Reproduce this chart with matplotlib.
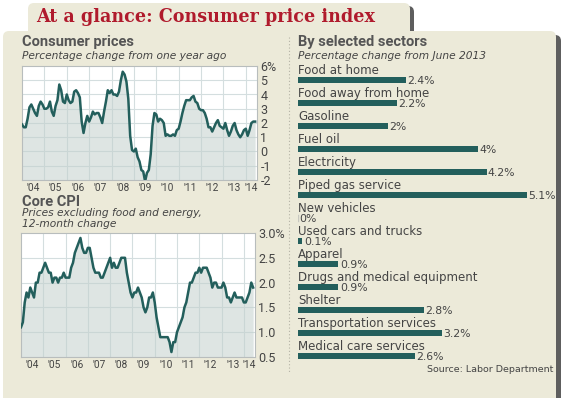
import numpy as np
import matplotlib
matplotlib.use("Agg")
import matplotlib.pyplot as plt
from matplotlib.patches import FancyBboxPatch

# ---- data ----
# monthly CPI, % change from a year ago, Jan 2004 .. Jun 2014
cpi = [1.9, 1.7, 1.7, 2.3, 3.1, 3.3, 3.0, 2.7, 2.5, 3.2, 3.5, 3.3,
       3.0, 3.0, 3.1, 3.5, 2.8, 2.5, 3.2, 3.6, 4.7, 4.3, 3.5, 3.4,
       4.0, 3.6, 3.4, 3.5, 4.2, 4.3, 4.1, 3.8, 2.1, 1.3, 2.0, 2.5,
       2.1, 2.4, 2.8, 2.6, 2.7, 2.7, 2.4, 2.0, 2.8, 3.5, 4.3, 4.1,
       4.3, 4.0, 4.0, 3.9, 4.2, 5.0, 5.6, 5.4, 4.9, 3.7, 1.1, 0.1,
       0.0, 0.2, -0.4, -0.7, -1.3, -1.4, -2.1, -1.5, -1.3, -0.2, 1.8, 2.7,
       2.6, 2.1, 2.3, 2.2, 2.0, 1.1, 1.2, 1.1, 1.1, 1.2, 1.1, 1.5,
       1.6, 2.1, 2.7, 3.2, 3.6, 3.6, 3.6, 3.8, 3.9, 3.5, 3.4, 3.0,
       2.9, 2.9, 2.7, 2.3, 1.7, 1.7, 1.4, 1.7, 2.0, 2.2, 1.8, 1.7,
       1.6, 2.0, 1.5, 1.1, 1.4, 1.8, 2.0, 1.5, 1.2, 1.0, 1.2, 1.5,
       1.6, 1.1, 1.5, 2.0, 2.1, 2.1]
# core CPI (ex food & energy), 12-month change
core = [1.1, 1.2, 1.6, 1.8, 1.7, 1.9, 1.8, 1.7, 2.0, 2.0, 2.2, 2.2,
        2.3, 2.4, 2.3, 2.2, 2.2, 2.0, 2.1, 2.1, 2.0, 2.1, 2.1, 2.2,
        2.1, 2.1, 2.1, 2.3, 2.4, 2.6, 2.7, 2.8, 2.9, 2.7, 2.6, 2.6,
        2.7, 2.7, 2.5, 2.3, 2.2, 2.2, 2.2, 2.1, 2.1, 2.2, 2.3, 2.4,
        2.5, 2.3, 2.4, 2.3, 2.3, 2.4, 2.5, 2.5, 2.5, 2.2, 2.0, 1.8,
        1.7, 1.8, 1.8, 1.9, 1.8, 1.7, 1.5, 1.4, 1.5, 1.7, 1.7, 1.8,
        1.6, 1.3, 1.1, 0.9, 0.9, 0.9, 0.9, 0.9, 0.8, 0.6, 0.8, 0.8,
        1.0, 1.1, 1.2, 1.3, 1.5, 1.6, 1.8, 2.0, 2.0, 2.1, 2.2, 2.2,
        2.3, 2.2, 2.3, 2.3, 2.3, 2.2, 2.1, 1.9, 2.0, 2.0, 1.9, 1.9,
        1.9, 2.0, 1.9, 1.7, 1.7, 1.6, 1.7, 1.8, 1.7, 1.7, 1.7, 1.7,
        1.6, 1.6, 1.7, 1.8, 2.0, 1.9]
year_labels = ["'04", "'05", "'06", "'07", "'08", "'09", "'10", "'11", "'12", "'13", "'14"]

sectors = ["Food at home", "Food away from home", "Gasoline", "Fuel oil",
           "Electricity", "Piped gas service", "New vehicles",
           "Used cars and trucks", "Apparel", "Drugs and medical equipment",
           "Shelter", "Transportation services", "Medical care services"]
changes = [2.4, 2.2, 2.0, 4.0, 4.2, 5.1, 0.0, 0.1, 0.9, 0.9, 2.8, 3.2, 2.6]
change_labels = ["2.4%", "2.2%", "2%", "4%", "4.2%", "5.1%", "0%", "0.1%",
                 "0.9%", "0.9%", "2.8%", "3.2%", "2.6%"]

W, H = 569, 398
BG = "#ecead9"
TEAL = "#235f5c"
TXT = "#444444"
NARROW = "Roboto"

fig = plt.figure(figsize=(W / 100, H / 100), dpi=100)
fig.patch.set_facecolor("white")


def px_axes(x0, y0, x1, y1):
    # axes from pixel box (top-left origin)
    return fig.add_axes([x0 / W, 1 - y1 / H, (x1 - x0) / W, (y1 - y0) / H])


# background panels
bg = px_axes(0, 0, W, H)
bg.set_xlim(0, W)
bg.set_ylim(H, 0)
bg.axis("off")
# shadows
bg.add_patch(FancyBboxPatch((32, 6), 382, 40, boxstyle="round,pad=0,rounding_size=6",
                            fc="#5e5e5e", ec="none"))
bg.add_patch(FancyBboxPatch((7, 35), 554, 380, boxstyle="round,pad=0,rounding_size=6",
                            fc="#5e5e5e", ec="none"))
# tab + main panel
bg.add_patch(FancyBboxPatch((28, 3), 382, 40, boxstyle="round,pad=0,rounding_size=6",
                            fc=BG, ec="none"))
bg.add_patch(FancyBboxPatch((3, 31), 553, 380, boxstyle="round,pad=0,rounding_size=6",
                            fc=BG, ec="none"))
bg.plot([289, 289], [37, 372], ls=(0, (1, 2)), color="#b5b3a6", lw=0.8)

bg.text(36, 17, "At a glance: Consumer price index", color="#b01a2c",
        fontsize=14, fontweight="bold", family="DejaVu Serif",
        fontstretch="condensed", va="center", ha="left")

bg.text(22, 42, "Consumer prices", fontsize=10.5, fontweight="bold",
        family=NARROW, color="#555555", va="center")
bg.text(22, 56, "Percentage change from one year ago", fontsize=7.7,
        style="italic", color=TXT, va="center")
bg.text(22, 202, "Core CPI", fontsize=10.5, fontweight="bold",
        family=NARROW, color="#555555", va="center")
bg.text(22, 213, "Prices excluding food and energy,", fontsize=7.7,
        style="italic", color=TXT, va="center")
bg.text(22, 224, "12-month change", fontsize=7.7,
        style="italic", color=TXT, va="center")
bg.text(298, 42, "By selected sectors", fontsize=10.5, fontweight="bold",
        family=NARROW, color="#555555", va="center")
bg.text(298, 56, "Percentage change from June 2013", fontsize=7.7,
        style="italic", color=TXT, va="center")
bg.text(553, 370, "Source: Labor Department", fontsize=6.8,
        color=TXT, va="center", ha="right")

months = 2004 + np.arange(len(cpi)) / 12.0
label_pos = [y + 0.5 for y in range(2004, 2014)] + [2014.22]


def line_chart(ax, vals, ylo, yhi, yticks, ylabels, hgrid):
    ax.set_facecolor("white")
    ax.set_xlim(2004, 2014.5)
    ax.set_ylim(ylo, yhi)
    for yr in range(2005, 2015):
        ax.axvline(yr, color="#d4dedf", lw=0.8, zorder=1)
    for g in hgrid:
        ax.axhline(g, color="#d4dedf", lw=0.8, zorder=1)
    ax.fill_between(months, vals, ylo, color="#c3d0cd", alpha=0.55, lw=0, zorder=2)
    ax.plot(months, vals, color=TEAL, lw=1.8, zorder=3)
    for s in ax.spines.values():
        s.set_color("#b8bdbd")
        s.set_linewidth(0.8)
    ax.yaxis.tick_right()
    ax.set_yticks(yticks)
    ax.set_yticklabels(ylabels, family=NARROW, fontsize=9, color=TXT)
    ax.set_xticks(label_pos)
    ax.set_xticklabels(year_labels, family=NARROW, fontsize=7.3, color=TXT)
    ax.tick_params(length=0, pad=2.5)


ax1 = px_axes(22, 66, 257, 180)
line_chart(ax1, cpi, -2, 6, list(range(-2, 7)),
           ["-2", "-1", "0", "1", "2", "3", "4", "5", "6%"], range(-1, 6))

ax2 = px_axes(21, 233, 255, 357)
line_chart(ax2, core, 0.5, 3.0, [0.5, 1.0, 1.5, 2.0, 2.5, 3.0],
           ["0.5", "1.0", "1.5", "2.0", "2.5", "3.0%"], [1.0, 1.5, 2.0, 2.5])

# sector bars
scale = 44.9
ax3 = px_axes(298, 68.5, 298 + 6 * scale, 367.5)
ax3.set_xlim(0, 6)
ax3.set_ylim(len(sectors) - 0.5, -0.5)
ax3.axis("off")
ypos = np.arange(len(sectors))
ax3.barh(ypos, changes, height=0.3, color=TEAL, align="center")
for i, (name, v, lab) in enumerate(zip(sectors, changes, change_labels)):
    if v == 0:
        ax3.plot([0.01, 0.01], [i - 0.15, i + 0.15], color="#c8c8c0", lw=1)
    ax3.text(0, i - 0.42, name, fontsize=8.5, color=TXT, va="center", ha="left")
    ax3.text(v + 0.03, i + 0.06, lab, fontsize=7.8, color=TXT, va="center", ha="left")

fig.savefig("out.png", dpi=100)
